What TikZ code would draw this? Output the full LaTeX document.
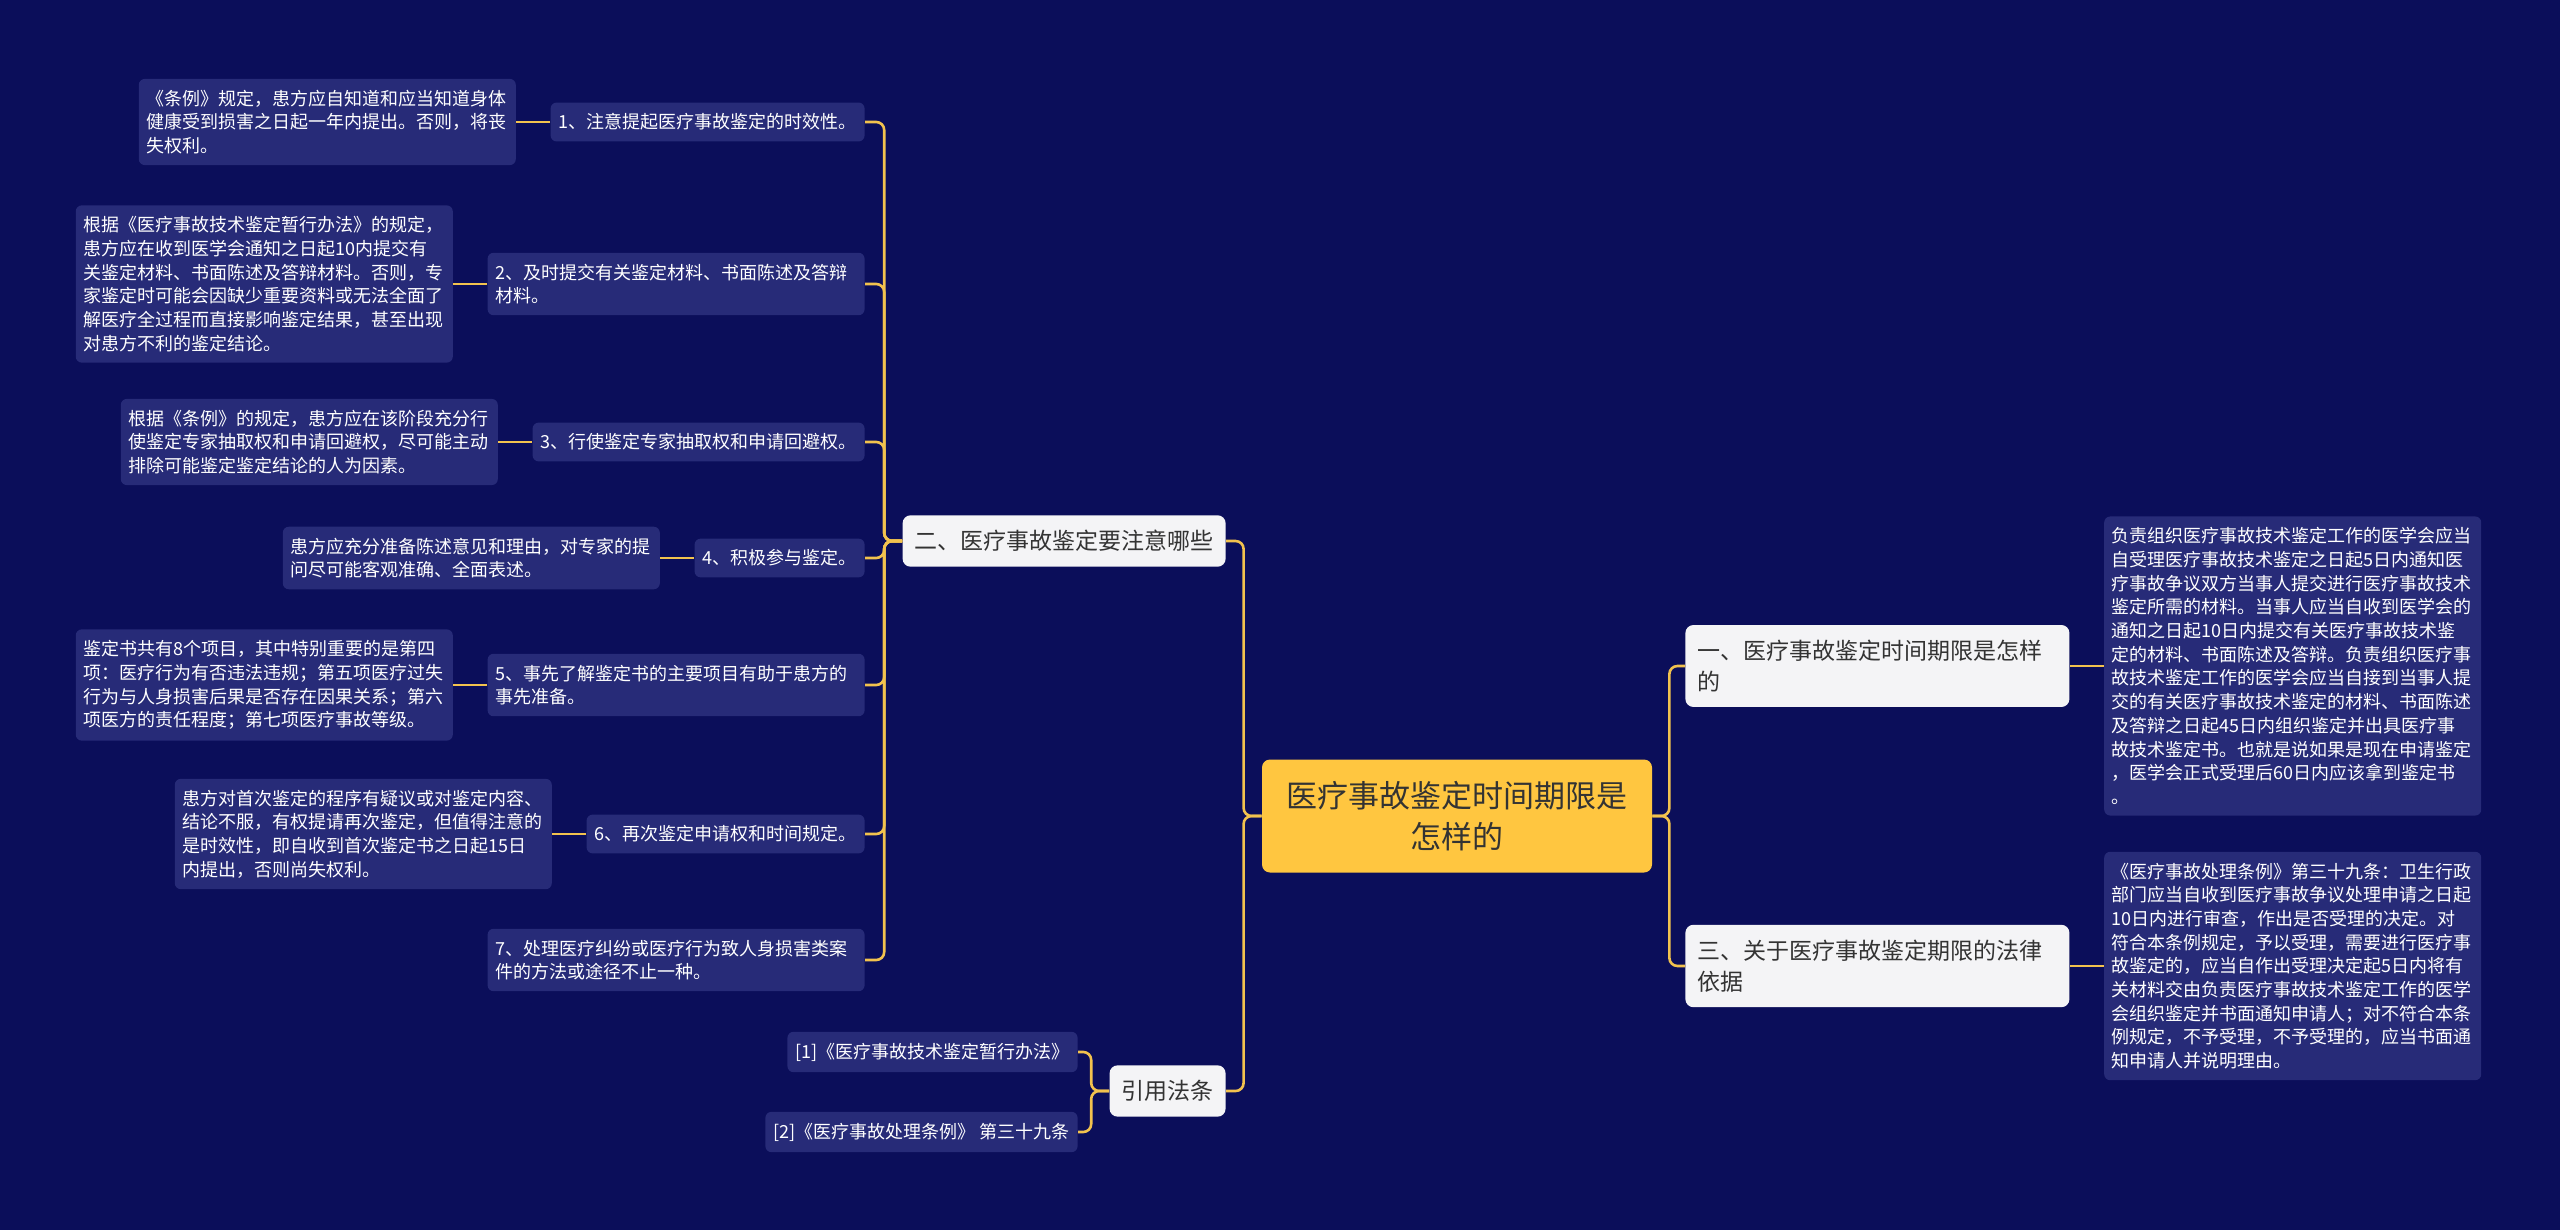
\documentclass[tikz,border=0pt]{standalone}
\usepackage{fontspec}
\setmainfont{Noto Sans CJK SC}
\usepackage{tikz}
\usetikzlibrary{positioning}
\definecolor{bgnavy}{HTML}{0B0E5A}
\definecolor{boxblue}{HTML}{272B78}
\definecolor{topicgray}{HTML}{F4F4F6}
\definecolor{rootgold}{HTML}{FFC640}
\definecolor{linegold}{HTML}{F2C24E}
\definecolor{inkdark}{HTML}{333333}
\tikzset{
  link/.style={draw=linegold, line width=1.3pt, rounded corners=4pt},
  rootbox/.style={fill=rootgold, rounded corners=4pt, text=inkdark, align=center,
    font=\fontsize{15.5}{20.5}\selectfont, minimum width=195pt, minimum height=56.5pt},
  topicbox/.style={fill=topicgray, rounded corners=4pt, text=inkdark, align=left,
    font=\fontsize{11.5}{15.5}\selectfont, inner xsep=6pt, inner ysep=7.5pt},
  subbox/.style={fill=boxblue, rounded corners=3pt, text=white, align=left,
    font=\fontsize{9}{11.85}\selectfont, inner xsep=4pt, inner ysep=5.5pt},
  leafbox/.style={subbox, text width=181pt, inner xsep=3.75pt}
}
\begin{document}
\begin{tikzpicture}[x=0.5pt, y=-0.5pt]
\fill[bgnavy] (0,0) rectangle (2560,1230);
\useasboundingbox (0,0) rectangle (2560,1230);

\node[rootbox] (root) at (1457,816) {医疗事故鉴定时间期限是\\怎样的};

\node[topicbox, anchor=east] (t2) at (1226,541) {二、医疗事故鉴定要注意哪些};
\node[topicbox, anchor=east] (tr) at (1226,1091) {引用法条};
\node[topicbox, anchor=west, text width=180pt] (t1) at (1685,666) {一、医疗事故鉴定时间期限是怎样\\的};
\node[topicbox, anchor=west, text width=180pt] (t3) at (1685,966) {三、关于医疗事故鉴定期限的法律\\依据};

\node[subbox, anchor=east] (i1) at (865,122) {1、注意提起医疗事故鉴定的时效性。};
\node[leafbox, anchor=east] (i2) at (865,284) {2、及时提交有关鉴定材料、书面陈述及答辩\\材料。};
\node[subbox, anchor=east] (i3) at (865,442) {3、行使鉴定专家抽取权和申请回避权。};
\node[subbox, anchor=east] (i4) at (865,558) {4、积极参与鉴定。};
\node[leafbox, anchor=east] (i5) at (865,685) {5、事先了解鉴定书的主要项目有助于患方的\\事先准备。};
\node[subbox, anchor=east] (i6) at (865,834) {6、再次鉴定申请权和时间规定。};
\node[leafbox, anchor=east] (i7) at (865,960) {7、处理医疗纠纷或医疗行为致人身损害类案\\件的方法或途径不止一种。};

\node[leafbox, left=17pt of i1] (d1) {《条例》规定，患方应自知道和应当知道身体\\健康受到损害之日起一年内提出。否则，将丧\\失权利。};
\node[leafbox, left=17pt of i2] (d2) {根据《医疗事故技术鉴定暂行办法》的规定，\\患方应在收到医学会通知之日起10内提交有\\关鉴定材料、书面陈述及答辩材料。否则，专\\家鉴定时可能会因缺少重要资料或无法全面了\\解医疗全过程而直接影响鉴定结果，甚至出现\\对患方不利的鉴定结论。};
\node[leafbox, left=17pt of i3] (d3) {根据《条例》的规定，患方应在该阶段充分行\\使鉴定专家抽取权和申请回避权，尽可能主动\\排除可能鉴定鉴定结论的人为因素。};
\node[leafbox, left=17pt of i4] (d4) {患方应充分准备陈述意见和理由，对专家的提\\问尽可能客观准确、全面表述。};
\node[leafbox, left=17pt of i5] (d5) {鉴定书共有8个项目，其中特别重要的是第四\\项：医疗行为有否违法违规；第五项医疗过失\\行为与人身损害后果是否存在因果关系；第六\\项医方的责任程度；第七项医疗事故等级。};
\node[leafbox, left=17pt of i6] (d6) {患方对首次鉴定的程序有疑议或对鉴定内容、\\结论不服，有权提请再次鉴定，但值得注意的\\是时效性，即自收到首次鉴定书之日起15日\\内提出，否则尚失权利。};

\node[leafbox, right=17pt of t1] (dA) {负责组织医疗事故技术鉴定工作的医学会应当\\自受理医疗事故技术鉴定之日起5日内通知医\\疗事故争议双方当事人提交进行医疗事故技术\\鉴定所需的材料。当事人应当自收到医学会的\\通知之日起10日内提交有关医疗事故技术鉴\\定的材料、书面陈述及答辩。负责组织医疗事\\故技术鉴定工作的医学会应当自接到当事人提\\交的有关医疗事故技术鉴定的材料、书面陈述\\及答辩之日起45日内组织鉴定并出具医疗事\\故技术鉴定书。也就是说如果是现在申请鉴定\\，医学会正式受理后60日内应该拿到鉴定书\\。};
\node[leafbox, right=17pt of t3] (dB) {《医疗事故处理条例》第三十九条：卫生行政\\部门应当自收到医疗事故争议处理申请之日起\\10日内进行审查，作出是否受理的决定。对\\符合本条例规定，予以受理，需要进行医疗事\\故鉴定的，应当自作出受理决定起5日内将有\\关材料交由负责医疗事故技术鉴定工作的医学\\会组织鉴定并书面通知申请人；对不符合本条\\例规定，不予受理，不予受理的，应当书面通\\知申请人并说明理由。};

\node[subbox, anchor=east] (r1) at (1078,1052) {[1]《医疗事故技术鉴定暂行办法》};
\node[subbox, anchor=east] (r2) at (1078,1132) {[2]《医疗事故处理条例》 第三十九条};

\draw[link] (root.west) -- ++(-18,0) |- (t2.east);
\draw[link] (root.west) -- ++(-18,0) |- (tr.east);
\draw[link] (root.east) -- ++(17,0) |- (t1.west);
\draw[link] (root.east) -- ++(17,0) |- (t3.west);
\foreach \i in {1,...,7} \draw[link] (t2.west) -- ++(-18,0) |- (i\i.east);
\foreach \i in {1,...,6} \draw[link] (i\i.west) -- (d\i.east);
\draw[link] (t1.east) -- (dA.west);
\draw[link] (t3.east) -- (dB.west);
\foreach \i in {1,2} \draw[link] (tr.west) -- ++(-18,0) |- (r\i.east);
\end{tikzpicture}
\end{document}
